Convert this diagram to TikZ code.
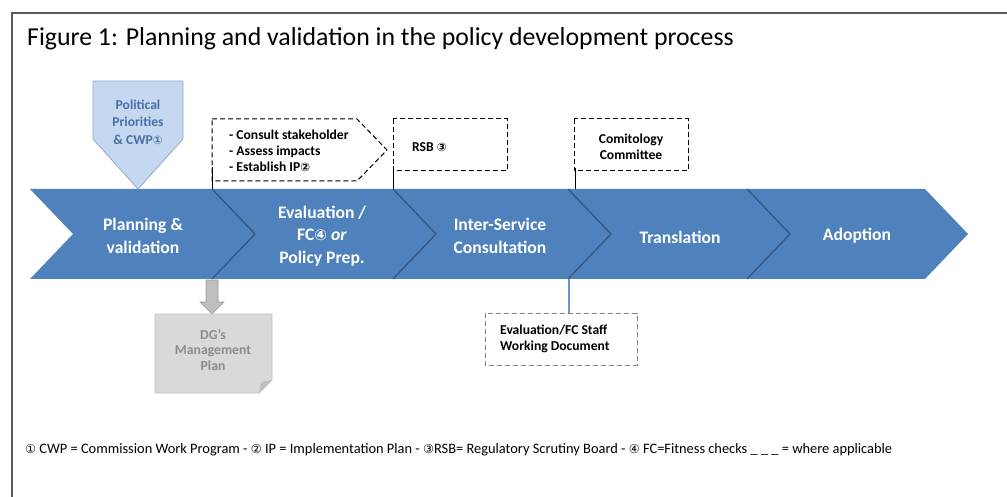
\documentclass[tikz,border=0pt]{standalone}
\usepackage{fontspec}
\setmainfont{Carlito}
\newfontfamily\dv[Scale=0.85]{DejaVu Sans}
\definecolor{cblue}{HTML}{4F81BD}
\definecolor{cedge}{HTML}{34577F}
\definecolor{ppfill}{HTML}{C6D8EF}
\definecolor{ppdraw}{HTML}{8EA9D3}
\definecolor{pptext}{HTML}{4A6EA8}
\definecolor{gfill}{HTML}{D9D9D9}
\definecolor{gdraw}{HTML}{BFBFBF}
\definecolor{gtext}{HTML}{8C8C8C}
\definecolor{frame}{HTML}{5A5A5A}
\newcommand{\cd}[1]{{\dv #1}}
\begin{document}
\begin{tikzpicture}[x=1pt,y=-1pt,
  chevedge/.style={draw=cedge, line width=1.3pt},
  chevtext/.style={text=white, font=\bfseries\fontsize{17.6}{22.5}\selectfont, align=center, inner sep=0pt},
  dbox/.style={draw=black, dash pattern=on 5pt off 3pt, line width=1pt},
  gbox/.style={draw=gray, dash pattern=on 5pt off 3pt, line width=1pt},
  boxtext/.style={font=\bfseries\fontsize{13.6}{16}\selectfont, align=left, inner sep=0pt},
  link/.style={draw=black, line width=1pt}]
\useasboundingbox (0,0) rectangle (1007,497);
\draw[frame, line width=2pt] (12,497) -- (12,13) -- (1007,13);
\node[anchor=base west, inner sep=0pt, font=\fontsize{25.8}{30}\selectfont] (title) at (27,46) {Figure 1: Planning and validation in the policy development process};
% chevrons
\foreach \l/\r in {30/212, 212/393, 393/568, 568/747, 747/925}{
  \fill[cblue] (\l,189) -- (\r,189) -- (\r+43,234) -- (\r,279) -- (\l,279) -- (\l+43,234) -- cycle;
}
\foreach \r in {212,393,568,747}{
  \draw[chevedge] (\r,189) -- (\r+43,234) -- (\r,279);
}
\node[chevtext] (s1) at (143,236) {Planning \&\\validation};
\node[chevtext] (s2) at (322,236) {Evaluation /\\FC\cd{④} \textit{or}\\Policy Prep.};
\node[chevtext] (s3) at (500,236) {Inter-Service\\Consultation};
\node[chevtext] (s4) at (680,237) {Translation};
\node[chevtext] (s5) at (857,236) {Adoption};
% political priorities
\draw[fill=ppfill, draw=ppdraw, line width=0.8pt] (93,81) -- (183,81) -- (183,139) -- (138,189) -- (93,139) -- cycle;
\node[font=\bfseries\fontsize{13.6}{17.5}\selectfont, text=pptext, align=center, inner sep=0pt] (pp) at (138,122) {Political\\Priorities\\\& CWP\cd{①}};
% dashed box 1
\draw[dbox] (212,119) -- (357,119) -- (387,150) -- (357,181) -- (212,181) -- cycle;
\node[boxtext, anchor=north west] (b1) at (229,130) {- Consult stakeholder\\- Assess impacts\\- Establish IP\cd{②}};
% RSB
\draw[dbox] (393,119) rectangle (507,171);
\node[boxtext, anchor=west] (rsb) at (412,147) {RSB \cd{③}};
% comitology
\draw[dbox] (574,119) rectangle (688,171);
\node[boxtext, align=center] (com) at (631,147) {Comitology\\Committee};
% connectors up
\coordinate (u1) at (212,167); \coordinate (d1) at (212,189);
\coordinate (u2) at (393,166); \coordinate (d2) at (393,189);
\coordinate (u3) at (575,168); \coordinate (d3) at (575,189);
\draw[link] (u1) -- (d1);
\draw[link] (u2) -- (d2);
\draw[link] (u3) -- (d3);
% evaluation SWD box
\draw[gbox] (485,313) rectangle (637,365);
\node[boxtext, anchor=north west] (swd) at (500,325) {Evaluation/FC Staff\\Working Document};
\coordinate (e1) at (569,279); \coordinate (e2) at (569,313);
\draw[draw=cblue!85!white, line width=1.3pt] (e1) -- (e2);
% gray arrow
\draw[fill=gdraw, draw=gray!80, line width=0.6pt] (206,280) -- (218,280) -- (218,302) -- (224,302) -- (212,314) -- (200,302) -- (206,302) -- cycle;
% note
\draw[fill=gfill, draw=gdraw, line width=0.8pt] (155,314) -- (272,314) -- (272,380) -- (259,393) -- (155,393) -- cycle;
\fill[gdraw] (272,380) -- (261,382) -- (259,393) -- cycle;
\node[font=\bfseries\fontsize{13.7}{15.5}\selectfont, text=gtext, align=center, inner sep=0pt] (dg) at (213,350) {DG's\\Management\\Plan};
% footer
\node[anchor=base west, inner sep=0pt, font=\fontsize{14.4}{16}\selectfont] (foot) at (25,453) {\cd{①} CWP = Commission Work Program - \cd{②} IP = Implementation Plan - \cd{③}RSB= Regulatory Scrutiny Board - \cd{④} FC=Fitness checks \_ \_ \_ = where applicable};
\end{tikzpicture}
\end{document}
